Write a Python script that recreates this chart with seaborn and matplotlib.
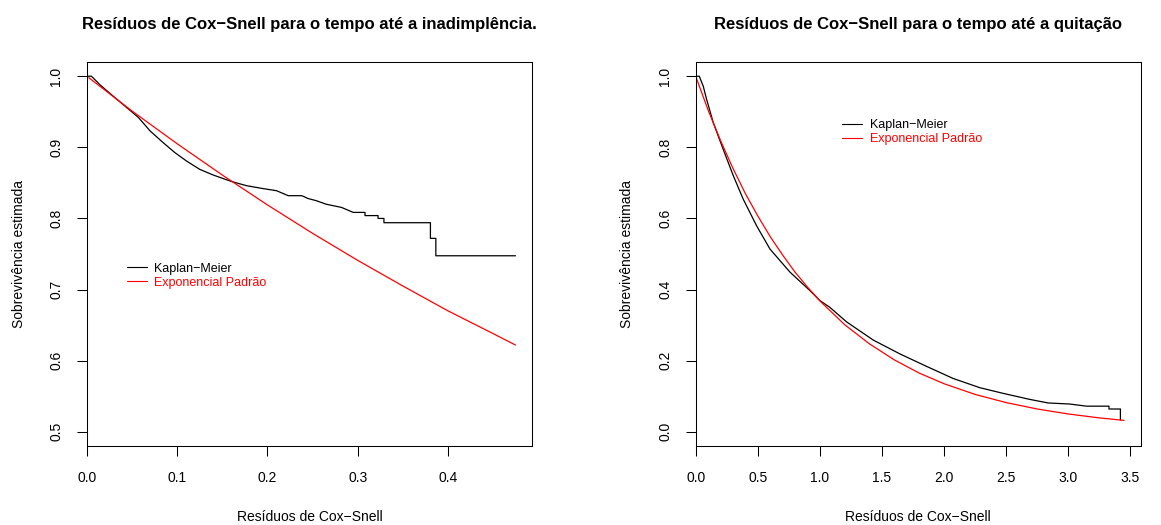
import matplotlib
matplotlib.use("Agg")
import matplotlib.pyplot as plt
import seaborn as sns
import pandas as pd

# Residuos de Cox-Snell: tempo ate a inadimplencia (painel esquerdo)
km_inad_x = [0, 0.005, 0.0144, 0.029, 0.044, 0.057, 0.070, 0.0845, 0.0975, 0.110, 0.125,
             0.140, 0.160, 0.177, 0.195, 0.210, 0.223, 0.238, 0.245, 0.254, 0.265, 0.282,
             0.295, 0.308, 0.308, 0.3225, 0.3225, 0.329, 0.329, 0.3805, 0.3805, 0.3865,
             0.3865, 0.4747]
km_inad_y = [1.0, 1.0, 0.988, 0.972, 0.956, 0.942, 0.923, 0.9065, 0.8925, 0.881, 0.869,
             0.861, 0.852, 0.846, 0.842, 0.839, 0.832, 0.832, 0.828, 0.825, 0.820, 0.8155,
             0.8085, 0.8085, 0.804, 0.804, 0.800, 0.800, 0.794, 0.794, 0.772, 0.772,
             0.7475, 0.7475]
exp_inad_x = [0.002, 0.05, 0.10, 0.15, 0.20, 0.25, 0.30, 0.35, 0.40, 0.45, 0.4747]
exp_inad_y = [0.998, 0.951, 0.905, 0.861, 0.819, 0.779, 0.741, 0.705, 0.670, 0.638, 0.622]

# Residuos de Cox-Snell: tempo ate a quitacao (painel direito)
km_quit_x = [0, 0.029, 0.061, 0.088, 0.142, 0.222, 0.303, 0.383, 0.491, 0.598, 0.759,
             0.920, 1.0, 1.080, 1.215, 1.429, 1.644, 1.858, 2.072, 2.287, 2.475, 2.69,
             2.837, 3.011, 3.146, 3.327, 3.327, 3.419, 3.419]
km_quit_y = [1.0, 1.0, 0.972, 0.935, 0.869, 0.794, 0.720, 0.654, 0.579, 0.514, 0.449,
             0.397, 0.369, 0.350, 0.309, 0.258, 0.219, 0.184, 0.150, 0.124, 0.108, 0.091,
             0.081, 0.078, 0.072, 0.072, 0.064, 0.064, 0.033]
exp_quit_x = [0.0, 0.1, 0.2, 0.3, 0.4, 0.5, 0.6, 0.7, 0.8, 0.9, 1.0, 1.2, 1.4, 1.6, 1.8,
              2.0, 2.25, 2.5, 2.75, 3.0, 3.25, 3.448]
exp_quit_y = [1.0, 0.905, 0.819, 0.741, 0.670, 0.607, 0.549, 0.497, 0.449, 0.407, 0.368,
              0.301, 0.247, 0.202, 0.165, 0.135, 0.105, 0.082, 0.064, 0.050, 0.039, 0.032]

titles = ["Resíduos de Cox\u2212Snell para o tempo até a inadimplência.",
          "Resíduos de Cox\u2212Snell para o tempo até a quitação"]
legend_labels = ["Kaplan\u2212Meier", "Exponencial Padrão"]

sns.set_style("ticks")
plt.rcParams['font.family'] = ['Liberation Sans', 'DejaVu Sans']
plt.rcParams['axes.linewidth'] = 0.75
plt.rcParams['text.color'] = 'black'
plt.rcParams['axes.labelcolor'] = 'black'
plt.rcParams['xtick.color'] = 'black'
plt.rcParams['ytick.color'] = 'black'

fig = plt.figure(figsize=(11.61, 5.25), dpi=100)
ax1 = fig.add_axes([0.0749, 0.1505, 0.3833, 0.7314])
ax2 = fig.add_axes([0.5992, 0.1505, 0.3836, 0.7314])

panels = [
    (ax1, km_inad_x, km_inad_y, exp_inad_x, exp_inad_y, (0, 0.493), (0.48, 1.02),
     [0.0, 0.1, 0.2, 0.3, 0.4], [0.5, 0.6, 0.7, 0.8, 0.9, 1.0], (0.089, 0.477)),
    (ax2, km_quit_x, km_quit_y, exp_quit_x, exp_quit_y, (0, 3.585), (-0.04, 1.04),
     [0.0, 0.5, 1.0, 1.5, 2.0, 2.5, 3.0, 3.5], [0.0, 0.2, 0.4, 0.6, 0.8, 1.0], (0.329, 0.851)),
]

for i, (ax, kx, ky, ex, ey, xlim, ylim, xt, yt, leg_pos) in enumerate(panels):
    km = pd.DataFrame({"x": kx, "y": ky})
    ex_df = pd.DataFrame({"x": ex, "y": ey})
    sns.lineplot(data=km, x="x", y="y", ax=ax, color="black", linewidth=0.9,
                 estimator=None, sort=False, label=legend_labels[0])
    sns.lineplot(data=ex_df, x="x", y="y", ax=ax, color="#FF0000", linewidth=0.9,
                 estimator=None, sort=False, label=legend_labels[1])
    ax.set_xlim(*xlim)
    ax.set_ylim(*ylim)
    ax.set_xticks(xt)
    ax.set_xticklabels([f"{v:.1f}" for v in xt])
    ax.set_yticks(yt)
    ax.set_yticklabels([f"{v:.1f}" for v in yt], rotation=90, va="center")
    for s in ax.spines.values():
        s.set_visible(True)
        s.set_color("black")
        s.set_linewidth(0.75)
    ax.tick_params(axis="both", direction="out", length=7, width=0.75,
                   labelsize=10, colors="black")
    ax.tick_params(axis="x", pad=11)
    ax.tick_params(axis="y", pad=10)
    ax.set_xlabel("Resíduos de Cox\u2212Snell", fontsize=10, labelpad=18)
    ax.set_ylabel("Sobrevivência estimada", fontsize=10, labelpad=17)
    ax.set_title(titles[i], fontsize=12, fontweight="bold", pad=24, color="black")
    leg = ax.legend(loc="upper left", bbox_to_anchor=leg_pos, frameon=False,
                    fontsize=9, handlelength=1.6, handletextpad=0.6,
                    borderpad=0, borderaxespad=0, labelspacing=0.15)
    for line in leg.get_lines():
        line.set_linewidth(0.8)
    leg.get_texts()[0].set_color("black")
    leg.get_texts()[1].set_color("#FF0000")

fig.savefig("out.png", dpi=100)
